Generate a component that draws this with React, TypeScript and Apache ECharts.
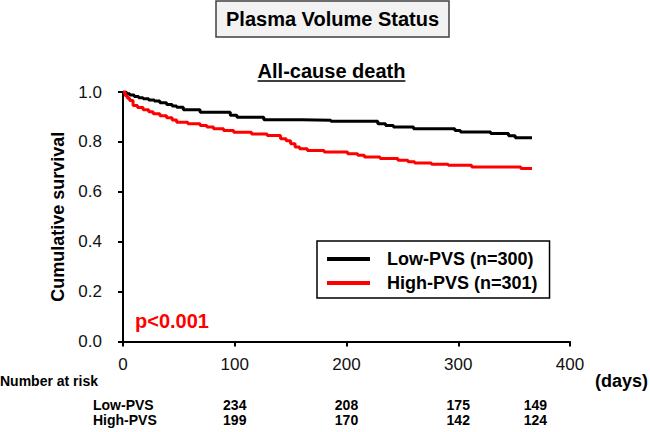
import React, { useEffect, useRef } from "react";
import * as echarts from "echarts";

const FONT = "'Liberation Sans', Arial, Helvetica, sans-serif";

const mainTitle = "Plasma Volume Status";
const subTitle = "All-cause death";
const yAxisName = "Cumulative survival";
const xUnit = "(days)";
const pValue = "p<0.001";

const lowName = "Low-PVS (n=300)";
const highName = "High-PVS (n=301)";

const lowDays = [0, 3, 6, 10, 14, 18, 23, 28, 33, 39, 44, 48, 54, 69, 96, 102, 126, 160, 186, 228, 235, 242, 260, 297, 302, 329, 345, 351, 366];
const lowSurv = [1.0, 0.993, 0.988, 0.982, 0.977, 0.973, 0.968, 0.964, 0.957, 0.95, 0.944, 0.939, 0.929, 0.919, 0.907, 0.899, 0.889, 0.887, 0.883, 0.873, 0.866, 0.86, 0.853, 0.846, 0.84, 0.834, 0.825, 0.817, 0.817];

const highDays = [0, 2, 4, 6, 9, 13, 18, 23, 27, 33, 39, 44, 48, 58, 69, 75, 81, 90, 99, 115, 129, 141, 146, 150, 154, 158, 165, 180, 201, 210, 216, 230, 246, 255, 261, 276, 291, 312, 356, 366];
const highSurv = [1.0, 0.985, 0.975, 0.966, 0.946, 0.938, 0.929, 0.921, 0.913, 0.905, 0.897, 0.888, 0.879, 0.873, 0.866, 0.86, 0.853, 0.846, 0.839, 0.832, 0.826, 0.813, 0.805, 0.793, 0.78, 0.773, 0.766, 0.76, 0.753, 0.746, 0.739, 0.733, 0.726, 0.72, 0.715, 0.71, 0.706, 0.699, 0.693, 0.693];

const xMin = 0;
const xMax = 400;
const xInterval = 100;
const yMin = 0;
const yMax = 1;
const yInterval = 0.2;

const riskTitle = "Number at risk";
const riskRowLabels = ["Low-PVS", "High-PVS"];
const riskDays = [100, 200, 300, 369];
const riskLow = [234, 208, 175, 149];
const riskHigh = [199, 170, 142, 124];

function textWidth(text: string, font: string): number {
  const c = document.createElement("canvas").getContext("2d");
  if (!c) return text.length * 10;
  c.font = font;
  return c.measureText(text).width;
}

export default function App() {
  const ref = useRef<HTMLDivElement>(null);
  useEffect(() => {
    const chart = echarts.init(ref.current!, null, { renderer: "svg" });
    const option: any = {
      animation: false,
      backgroundColor: "#ffffff",
      textStyle: { fontFamily: FONT },
      title: [
        {
          text: mainTitle,
          left: 216,
          top: 1,
          padding: [6, 10, 6, 10],
          backgroundColor: "#f2f2f2",
          borderColor: "#404040",
          borderWidth: 1.5,
          textStyle: { fontSize: 20, fontWeight: "bold", color: "#000", fontFamily: FONT, lineHeight: 24 },
        },
      ],
      grid: { left: 123, right: 80, top: 92, bottom: 90.5, containLabel: false },
      legend: {
        data: [lowName, highName],
        orient: "vertical",
        left: 317,
        top: 241,
        padding: [8, 12, 5, 10],
        itemGap: 4,
        itemWidth: 43,
        itemHeight: 4,
        icon: "rect",
        borderColor: "#000",
        borderWidth: 1.5,
        backgroundColor: "#fff",
        textStyle: { fontSize: 18, fontWeight: "bold", color: "#000", fontFamily: FONT, lineHeight: 20, padding: [0, 0, 0, 12] },
      },
      xAxis: {
        type: "value",
        min: xMin,
        max: xMax,
        interval: xInterval,
        axisLine: { show: true, lineStyle: { color: "#000", width: 2 } },
        axisTick: { show: true, length: 5, lineStyle: { color: "#000", width: 2 } },
        axisLabel: { fontSize: 17, color: "#111", margin: 14, fontFamily: FONT },
        splitLine: { show: false },
      },
      yAxis: {
        type: "value",
        min: yMin,
        max: yMax,
        interval: yInterval,
        name: yAxisName,
        nameLocation: "middle",
        nameGap: 56,
        nameTextStyle: { fontSize: 18, fontWeight: "bold", color: "#000", fontFamily: FONT },
        axisLine: { show: true, lineStyle: { color: "#000", width: 2 } },
        axisTick: { show: true, length: 5, lineStyle: { color: "#000", width: 2 } },
        axisLabel: { fontSize: 17, color: "#111", margin: 21, fontFamily: FONT, formatter: (v: number) => v.toFixed(1) },
        splitLine: { show: false },
      },
      series: [
        {
          name: lowName,
          type: "line",
          step: "end",
          symbol: "none",
          data: lowDays.map((d, i) => [d, lowSurv[i]]),
          lineStyle: { color: "#000000", width: 3 },
          itemStyle: { color: "#000000" },
        },
        {
          name: highName,
          type: "line",
          step: "end",
          symbol: "none",
          data: highDays.map((d, i) => [d, highSurv[i]]),
          lineStyle: { color: "#ff0000", width: 3 },
          itemStyle: { color: "#ff0000" },
        },
      ],
    };
    chart.setOption(option);

    const px = (d: number) => chart.convertToPixel({ xAxisIndex: 0 }, d) as number;
    const subFont = `bold 20px ${FONT}`;
    const subW = textWidth(subTitle, subFont);
    const subX = 331.5;
    const riskStyle = { fontSize: 14, fontWeight: "bold", fill: "#000", fontFamily: FONT };
    const graphics: any[] = [
      {
        type: "text",
        x: subX,
        y: 71,
        style: { text: subTitle, fontSize: 20, fontWeight: "bold", fill: "#000", fontFamily: FONT, align: "center", verticalAlign: "middle" },
      },
      {
        type: "line",
        shape: { x1: subX - subW / 2, y1: 81, x2: subX + subW / 2, y2: 81 },
        style: { stroke: "#000", lineWidth: 1.5 },
      },
      {
        type: "text",
        x: 135,
        y: 321,
        style: { text: pValue, fontSize: 20, fontWeight: "bold", fill: "#ff0000", fontFamily: FONT, align: "left", verticalAlign: "middle" },
      },
      {
        type: "text",
        x: 0,
        y: 381,
        style: { text: riskTitle, ...riskStyle, align: "left", verticalAlign: "middle" },
      },
      {
        type: "text",
        x: 648,
        y: 381,
        style: { text: xUnit, fontSize: 18, fontWeight: "bold", fill: "#000", fontFamily: FONT, align: "right", verticalAlign: "middle" },
      },
    ];
    const rowY = [405, 420];
    const rowVals = [riskLow, riskHigh];
    riskRowLabels.forEach((lab, r) => {
      graphics.push({
        type: "text",
        x: 93,
        y: rowY[r],
        style: { text: lab, ...riskStyle, align: "left", verticalAlign: "middle" },
      });
      riskDays.forEach((d, i) => {
        graphics.push({
          type: "text",
          x: px(d),
          y: rowY[r],
          style: { text: String(rowVals[r][i]), ...riskStyle, align: "center", verticalAlign: "middle" },
        });
      });
    });
    chart.setOption({ graphic: graphics });

    return () => chart.dispose();
  }, []);
  return <div ref={ref} style={{ position: "absolute", left: 0, top: 0, width: 650, height: 432 }} />;
}
